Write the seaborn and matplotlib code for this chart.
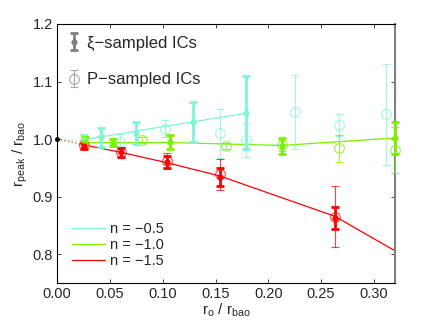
import numpy as np
import matplotlib
matplotlib.use('Agg')
import matplotlib.pyplot as plt
import seaborn as sns

# --- data ---
# n = -0.5 (cyan)
c_xi_x = [0.025, 0.042, 0.075, 0.129, 0.179]
c_xi_y = [0.998, 1.003, 1.010, 1.030, 1.046]
c_xi_e = [0.010, 0.017, 0.019, 0.035, 0.063]
c_p_x = [0.060, 0.102, 0.154, 0.179, 0.225, 0.267, 0.311]
c_p_y = [0.995, 1.018, 1.010, 0.998, 1.047, 1.024, 1.043]
c_p_e = [0.014, 0.015, 0.042, 0.029, 0.065, 0.019, 0.088]
c_fit_x = [0.025, 0.179]
c_fit_y = [0.999, 1.045]

# n = -1.0 (green)
g_xi_x = [0.0265, 0.053, 0.107, 0.213, 0.320]
g_xi_y = [0.995, 0.994, 0.995, 0.9885, 1.002]
g_xi_e = [0.008, 0.006, 0.013, 0.014, 0.028]
g_p_x = [0.080, 0.160, 0.213, 0.2665, 0.320]
g_p_y = [0.998, 0.988, 0.989, 0.984, 0.981]
g_p_e = [0.005, 0.006, 0.010, 0.024, 0.040]
g_fit_x = [0.0265, 0.053, 0.107, 0.213, 0.320]
g_fit_y = [0.994, 0.994, 0.994, 0.989, 1.002]

# n = -1.5 (red)
r_xi_x = [0.025, 0.0605, 0.104, 0.154, 0.263]
r_xi_y = [0.988, 0.977, 0.960, 0.934, 0.863]
r_xi_e = [0.006, 0.008, 0.010, 0.015, 0.019]
r_p_x = [0.025, 0.0605, 0.104, 0.154, 0.263]
r_p_y = [0.990, 0.977, 0.962, 0.939, 0.865]
r_p_e = [0.008, 0.010, 0.014, 0.027, 0.053]
r_fit_x = [0.025, 0.0605, 0.104, 0.154, 0.263, 0.320]
r_fit_y = [0.990, 0.977, 0.959, 0.936, 0.866, 0.806]

labels = ['n = \u22120.5', 'n = \u22121.0', 'n = \u22121.5']
colors = ['#7ff5d8', '#7cf000', '#ff0000']

sns.set_style('ticks')
plt.rcParams['font.family'] = ['Liberation Sans', 'DejaVu Sans']
plt.rcParams['mathtext.default'] = 'regular'
plt.rcParams['axes.unicode_minus'] = True

fig = plt.figure(figsize=(4.36, 3.28), dpi=100)
ax = fig.add_axes([0.131, 0.137, 0.775, 0.79])

series = [
    (c_xi_x, c_xi_y, c_xi_e, c_p_x, c_p_y, c_p_e, c_fit_x, c_fit_y),
    (g_xi_x, g_xi_y, g_xi_e, g_p_x, g_p_y, g_p_e, g_fit_x, g_fit_y),
    (r_xi_x, r_xi_y, r_xi_e, r_p_x, r_p_y, r_p_e, r_fit_x, r_fit_y),
]

line_handles = []
for (xx, xy, xe, px, py, pe, fx, fy), col, lab in zip(series, colors, labels):
    # dotted lead from the origin point
    ax.plot([0, fx[0]], [1.0, fy[0]], ls=':', color=col, lw=1, alpha=0.6)
    sns.lineplot(x=fx, y=fy, color=col, lw=0.9, ax=ax, label=lab, sort=False)
    ax.errorbar(px, py, yerr=pe, fmt='o', mfc='none', mec=col, ms=7, mew=0.8,
                ecolor=col, elinewidth=0.8, capsize=3, capthick=0.8,
                alpha=0.75, clip_on=False, zorder=3)
    ax.errorbar(xx, xy, yerr=xe, fmt='o', color=col, ms=3.5,
                ecolor=col, elinewidth=2, capsize=3, capthick=2,
                clip_on=False, zorder=4)

ax.plot([0], [1.0], 'o', color='black', ms=2.5, clip_on=False, zorder=5)

handles, labs = ax.get_legend_handles_labels()
leg2 = ax.legend(handles[:3], labs[:3], loc='lower left', frameon=False,
                 fontsize=10.5, handlelength=2.3, handletextpad=0.35,
                 labelspacing=0.15, borderaxespad=0.6)
ax.add_artist(leg2)

h1 = ax.errorbar([np.nan], [np.nan], yerr=[np.nan], fmt='o', color='0.5',
                 ms=3.5, elinewidth=2, capsize=3, capthick=2)
h2 = ax.errorbar([np.nan], [np.nan], yerr=[np.nan], fmt='o', mfc='none',
                 mec='0.65', ms=7, mew=0.8, ecolor='0.65', elinewidth=0.8,
                 capsize=3, capthick=0.8)
ax.legend([h1, h2], ['\u03be\u2212sampled ICs', 'P\u2212sampled ICs'],
          loc='upper left', frameon=False, fontsize=12, handlelength=0.6,
          handletextpad=0.5, labelspacing=1.3, borderaxespad=0.3)

ax.set_xlim(0, 0.32)
ax.set_ylim(0.75, 1.2)
ax.set_xticks([0.0, 0.05, 0.10, 0.15, 0.20, 0.25, 0.30])
ax.set_xticklabels(['0.00', '0.05', '0.10', '0.15', '0.20', '0.25', '0.30'])
ax.set_yticks([0.8, 0.9, 1.0, 1.1, 1.2])
ax.set_yticklabels(['0.8', '0.9', '1.0', '1.1', '1.2'])
ax.tick_params(direction='in', length=3, width=0.6, labelsize=10.5,
               top=True, right=True, pad=3)
for s in ax.spines.values():
    s.set_linewidth(0.8)
    s.set_color('black')
ax.spines['right'].set_color('0.5')
ax.spines['right'].set_linewidth(1.5)

ax.set_xlabel('r$_o$ / r$_{bao}$', fontsize=11, labelpad=0)
ax.set_ylabel('r$_{peak}$ / r$_{bao}$', fontsize=11, labelpad=2)

fig.savefig('out.png', dpi=100)
